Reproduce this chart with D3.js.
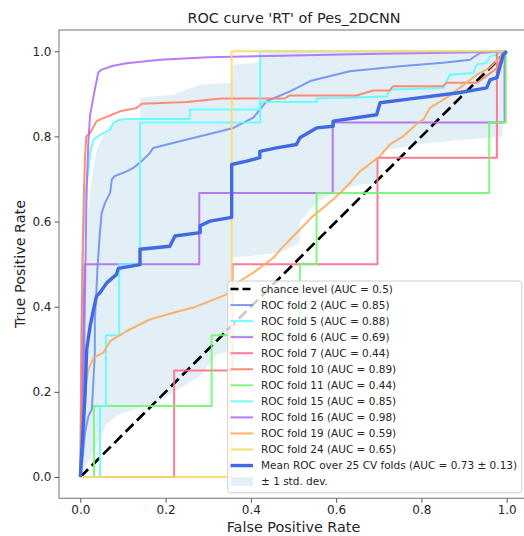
<!DOCTYPE html>
<html lang="en">
  <head>
    <meta charset="UTF-8" />
    <title>ROC curve 'RT' of Pes_2DCNN</title>
    <script src="https://d3js.org/d3.v7.min.js"></script>
    <style>
      body {
        margin: 0;
        background: #fff;
        font-family: "DejaVu Sans", sans-serif;
      }
      svg text {
        fill: #262626;
      }
    </style>
  </head>
  <body>
    <div id="chart"></div>
    <script>
      // ROC points [fpr, tpr]
      const fold2 = [[0,0],[0.005,0.04],[0.011,0.104],[0.019,0.143],[0.027,0.159],[0.031,0.229],[0.034,0.292],[0.034,0.37],[0.038,0.44],[0.04,0.487],[0.046,0.574],[0.05,0.62],[0.058,0.644],[0.07,0.668],[0.074,0.699],[0.081,0.707],[0.109,0.718],[0.124,0.726],[0.144,0.742],[0.163,0.761],[0.171,0.773],[0.25,0.793],[0.296,0.804],[0.359,0.82],[0.406,0.844],[0.437,0.883],[0.492,0.906],[0.539,0.93],[0.632,0.953],[0.75,0.965],[0.851,0.973],[0.914,0.98],[0.937,0.996],[0.99,1],[1,1]];
      const fold5 = [[0,0],[0.002,0.3],[0.005,0.5],[0.01,0.62],[0.015,0.69],[0.019,0.72],[0.023,0.761],[0.031,0.793],[0.042,0.8],[0.054,0.808],[0.07,0.816],[0.077,0.832],[0.089,0.838],[0.105,0.841],[0.257,0.841],[0.257,0.863],[0.421,0.863],[0.421,0.881],[0.554,0.881],[0.554,0.889],[0.719,0.894],[0.726,0.91],[0.851,0.914],[0.867,0.945],[0.922,0.949],[0.93,0.969],[0.953,0.973],[0.961,0.988],[0.977,0.992],[0.992,1],[1,1]];
      const fold6 = [[0,0],[0.01,0.5],[0.279,0.5],[0.279,0.667],[0.592,0.667],[0.592,0.833],[0.995,0.833],[0.995,1],[1,1]];
      const fold7 = [[0,0],[0.22,0],[0.22,0.25],[0.357,0.25],[0.357,0.5],[0.697,0.5],[0.697,0.75],[0.977,0.75],[0.977,1],[1,1]];
      const fold10 = [[0,0],[0.003,0.35],[0.005,0.5],[0.008,0.65],[0.011,0.75],[0.014,0.8],[0.023,0.808],[0.038,0.836],[0.054,0.843],[0.074,0.851],[0.093,0.859],[0.132,0.867],[0.144,0.877],[0.25,0.881],[0.33,0.889],[0.48,0.889],[0.49,0.896],[0.648,0.896],[0.687,0.908],[0.726,0.908],[0.734,0.918],[0.851,0.918],[0.859,0.926],[0.93,0.926],[0.95,0.94],[0.977,0.96],[0.992,1],[1,1]];
      const fold11 = [[0,0],[0.032,0],[0.032,0.167],[0.308,0.167],[0.308,0.333],[0.515,0.333],[0.515,0.5],[0.554,0.5],[0.554,0.667],[0.959,0.667],[0.959,0.833],[0.998,0.833],[0.998,1],[1,1]];
      const fold15 = [[0,0],[0.046,0],[0.046,0.167],[0.06,0.167],[0.06,0.333],[0.091,0.333],[0.091,0.5],[0.14,0.5],[0.14,0.833],[0.422,0.833],[0.422,1],[1,1]];
      const fold16 = [[0,0],[0.005,0.1],[0.009,0.3],[0.012,0.5],[0.015,0.68],[0.019,0.79],[0.023,0.851],[0.031,0.894],[0.034,0.91],[0.042,0.95],[0.05,0.957],[0.077,0.966],[0.109,0.972],[0.187,0.98],[0.3,0.986],[0.5,0.99],[0.7,0.994],[0.9,0.997],[1,1]];
      const fold19 = [[0,0],[0.005,0.1],[0.01,0.18],[0.015,0.23],[0.019,0.253],[0.031,0.28],[0.054,0.292],[0.07,0.319],[0.109,0.343],[0.163,0.37],[0.218,0.386],[0.265,0.398],[0.304,0.413],[0.343,0.429],[0.374,0.46],[0.406,0.48],[0.453,0.515],[0.469,0.534],[0.5,0.566],[0.546,0.613],[0.593,0.652],[0.625,0.683],[0.656,0.718],[0.703,0.754],[0.726,0.781],[0.757,0.8],[0.789,0.83],[0.805,0.84],[0.82,0.867],[0.859,0.891],[0.89,0.914],[0.93,0.945],[0.96,0.961],[0.984,0.985],[1,1]];
      const fold24 = [[0,0],[0.355,0],[0.355,1],[1,1]];
      const meanRoc = [[0,0],[0.007,0.12],[0.011,0.19],[0.015,0.3],[0.023,0.354],[0.031,0.394],[0.038,0.425],[0.046,0.433],[0.062,0.456],[0.085,0.476],[0.089,0.49],[0.14,0.499],[0.14,0.535],[0.21,0.542],[0.222,0.566],[0.281,0.574],[0.281,0.59],[0.304,0.601],[0.355,0.61],[0.355,0.734],[0.39,0.742],[0.421,0.75],[0.421,0.765],[0.46,0.773],[0.507,0.781],[0.515,0.797],[0.554,0.82],[0.593,0.824],[0.593,0.836],[0.695,0.851],[0.703,0.879],[0.765,0.887],[0.883,0.902],[0.93,0.91],[0.953,0.914],[0.961,0.933],[0.977,0.938],[0.992,0.992],[1,1]];
      const stdUpper = [[0,0],[0.003,0.3],[0.01,0.5],[0.018,0.62],[0.023,0.675],[0.038,0.769],[0.054,0.8],[0.077,0.836],[0.109,0.839],[0.14,0.84],[0.14,0.891],[0.218,0.898],[0.281,0.922],[0.355,0.926],[0.36,0.969],[0.421,0.973],[0.43,1],[1,1]];
      const stdLower = [[0,0],[0.03,0.06],[0.062,0.124],[0.089,0.147],[0.14,0.163],[0.167,0.168],[0.187,0.178],[0.21,0.194],[0.281,0.237],[0.32,0.288],[0.355,0.296],[0.355,0.515],[0.469,0.527],[0.515,0.55],[0.515,0.6],[0.554,0.644],[0.593,0.668],[0.656,0.687],[0.695,0.69],[0.695,0.754],[0.72,0.769],[0.82,0.785],[0.953,0.797],[0.99,0.8],[1,1]];

      const foldNames = ["2", "5", "6", "7", "10", "11", "15", "16", "19", "24"];
      const foldAuc = [0.85, 0.88, 0.69, 0.44, 0.89, 0.44, 0.85, 0.98, 0.59, 0.65];
      const foldData = [fold2, fold5, fold6, fold7, fold10, fold11, fold15, fold16, fold19, fold24];
      const foldColors = ["#6f8ff2", "#5ffcff", "#b06ef2", "#ff6d88", "#ff8266", "#70f870", "#5ffcff", "#b06ef2", "#ffaa5c", "#ffd766"];
      const ticks = [0, 0.2, 0.4, 0.6, 0.8, 1.0];

      const width = 524, height = 536;
      const x = d3.scaleLinear().domain([-0.05, 1.05]).range([59, 528]);
      const y = d3.scaleLinear().domain([-0.05, 1.05]).range([498.3, 30]);

      const svg = d3.select("#chart").append("svg")
        .attr("width", width).attr("height", height);

      svg.append("clipPath").attr("id", "clip")
        .append("rect").attr("x", 59).attr("y", 30)
        .attr("width", 469).attr("height", 468.3);

      const plot = svg.append("g").attr("clip-path", "url(#clip)");
      const line = d3.line().x(d => x(d[0])).y(d => y(d[1]));

      // std band (behind the lines, like matplotlib zorder)
      const band = stdUpper.concat(stdLower.slice().reverse());
      plot.append("path")
        .attr("d", line(band) + "Z")
        .attr("fill", "#9ecae1").attr("fill-opacity", 0.3);

      // chance line
      plot.append("path")
        .attr("d", line([[0, 0], [1, 1]]))
        .attr("fill", "none").attr("stroke", "#000")
        .attr("stroke-width", 2.7).attr("stroke-dasharray", "11,5");

      foldData.forEach((pts, i) => {
        plot.append("path")
          .attr("d", line(pts))
          .attr("fill", "none")
          .attr("stroke", foldColors[i])
          .attr("stroke-width", 2)
          .attr("stroke-opacity", 0.9)
          .attr("stroke-linejoin", "round");
      });

      plot.append("path")
        .attr("d", line(meanRoc))
        .attr("fill", "none").attr("stroke", "#4169e1")
        .attr("stroke-width", 3.4).attr("stroke-linejoin", "round");

      // frame
      svg.append("rect")
        .attr("x", 59).attr("y", 30).attr("width", 469).attr("height", 468.3)
        .attr("fill", "none").attr("stroke", "#8a8a8a").attr("stroke-width", 1.2);

      // axes
      const xAxis = svg.append("g").attr("transform", "translate(0,498.3)")
        .call(d3.axisBottom(x).tickValues(ticks).tickFormat(d3.format(".1f")).tickSize(4.5).tickPadding(3));
      const yAxis = svg.append("g").attr("transform", "translate(59,0)")
        .call(d3.axisLeft(y).tickValues(ticks).tickFormat(d3.format(".1f")).tickSize(4.5).tickPadding(3));
      [xAxis, yAxis].forEach(a => {
        a.select(".domain").remove();
        a.selectAll("line").attr("stroke", "#555");
        a.selectAll("text").attr("font-size", 12).attr("font-family", "DejaVu Sans").attr("fill", "#262626");
      });

      svg.append("text")
        .attr("x", 294).attr("y", 23).attr("text-anchor", "middle")
        .attr("font-size", 14.4).text("ROC curve 'RT' of Pes_2DCNN");
      svg.append("text")
        .attr("x", 293.5).attr("y", 532).attr("text-anchor", "middle")
        .attr("font-size", 14.4).text("False Positive Rate");
      svg.append("text")
        .attr("transform", "translate(25,264) rotate(-90)")
        .attr("text-anchor", "middle")
        .attr("font-size", 14.4).text("True Positive Rate");

      // legend
      const legend = svg.append("g");
      legend.append("rect")
        .attr("x", 227.7).attr("y", 281).attr("width", 294).attr("height", 211.7)
        .attr("rx", 3).attr("fill", "#fff").attr("fill-opacity", 0.8)
        .attr("stroke", "#d0d0d0").attr("stroke-width", 1);

      const items = [{ label: "chance level (AUC = 0.5)", color: "#000", w: 2.7, dash: "8,4" }]
        .concat(foldNames.map((n, i) => ({ label: `ROC fold ${n} (AUC = ${foldAuc[i].toFixed(2)})`, color: foldColors[i], w: 2, op: 0.9 })))
        .concat([{ label: "Mean ROC over 25 CV folds (AUC = 0.73 \u00b1 0.13)", color: "#4169e1", w: 3.4 },
                 { label: "\u00b1 1 std. dev.", patch: true }]);

      items.forEach((it, i) => {
        const cy = 289 + i * 16.05;
        if (it.patch) {
          legend.append("rect").attr("x", 231).attr("y", cy - 4.3).attr("width", 22).attr("height", 8.6)
            .attr("fill", "#9ecae1").attr("fill-opacity", 0.3);
        } else {
          legend.append("line").attr("x1", 230.5).attr("x2", 253).attr("y1", cy).attr("y2", cy)
            .attr("stroke", it.color).attr("stroke-width", it.w)
            .attr("stroke-opacity", it.op || 1)
            .attr("stroke-dasharray", it.dash || null);
        }
        legend.append("text").attr("x", 261).attr("y", cy + 3.8)
          .attr("font-size", 10.5).text(it.label);
      });
    </script>
  </body>
</html>
